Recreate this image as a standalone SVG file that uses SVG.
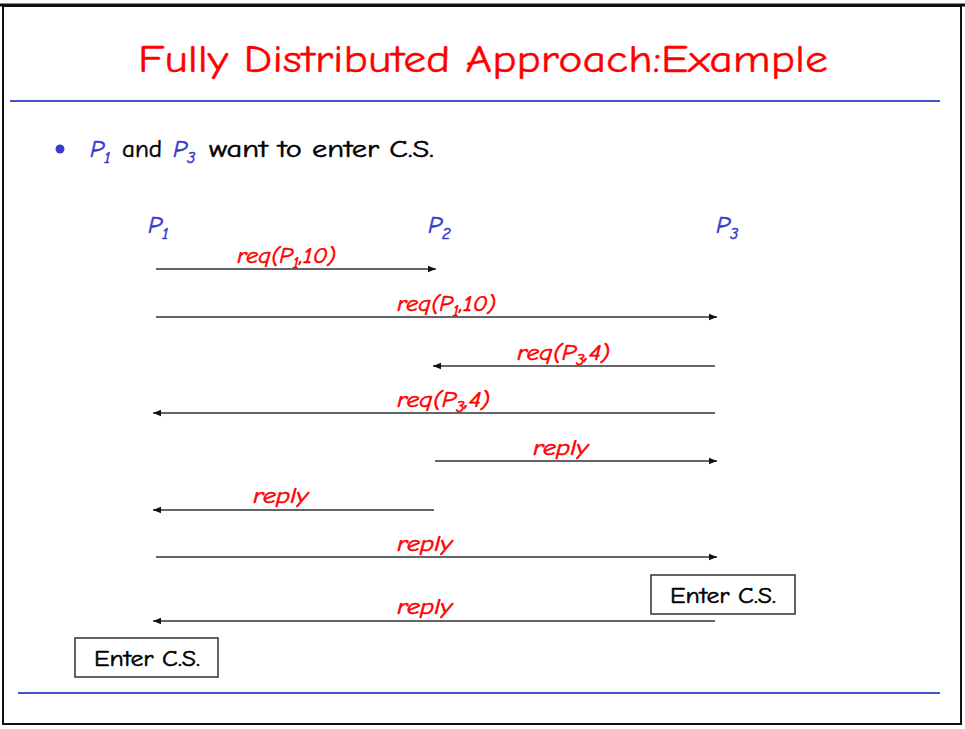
<svg xmlns="http://www.w3.org/2000/svg" width="965" height="729" viewBox="0 0 965 729">
<style>
.title{font-family:"Comic Neue","Liberation Sans",sans-serif;font-size:39px;fill:#ff0000;stroke:#ff0000;stroke-width:0.4}
.body{font-family:"Comic Neue","Liberation Sans",sans-serif;font-size:24px;fill:#000;stroke:#000;stroke-width:0.5}
.proc{font-family:"Comic Neue","Liberation Sans",sans-serif;font-size:25px;font-style:italic;fill:#3a3acc;stroke:#3a3acc;stroke-width:0.6}
.lbl{font-family:"Comic Neue","Liberation Sans",sans-serif;font-size:23px;font-style:italic;fill:#ff0000;stroke:#ff0000;stroke-width:0.6}
.sub{font-size:65%}
.msg{stroke:#333;stroke-width:1.5;fill:none;marker-end:url(#ah)}
.rule{stroke:#4455cc;stroke-width:2}
.box rect{fill:#fff;stroke:#333;stroke-width:1.5}
.box text{font-family:"Comic Neue","Liberation Sans",sans-serif;font-size:22px;fill:#000;stroke:#000;stroke-width:0.5}
</style>
<defs>
<marker id="ah" viewBox="0 0 10 10" refX="10" refY="5" markerWidth="9" markerHeight="8" markerUnits="userSpaceOnUse" orient="auto">
<path d="M0,1 L10,5 L0,9 z" fill="#111"/>
</marker>
</defs>
<rect x="0" y="0" width="965" height="729" fill="#fff"/>
<rect x="3" y="6" width="958" height="718" fill="none" stroke="#111" stroke-width="2"/>
<line x1="0" y1="5" x2="965" y2="5" stroke="#111" stroke-width="3"/>
<text class="title" x="483" y="72" text-anchor="middle" textLength="690" lengthAdjust="spacingAndGlyphs">Fully Distributed Approach:Example</text>
<line class="rule" x1="10" y1="101" x2="940" y2="101"/>
<line class="rule" x1="18" y1="693" x2="940" y2="693"/>
<circle cx="60" cy="149" r="4.5" fill="#3a3acc"/>
<text class="proc" x="90" y="157">P<tspan class="sub" dy="6">1</tspan></text>
<text class="body" x="122" y="157" textLength="40" lengthAdjust="spacingAndGlyphs">and</text>
<text class="proc" x="173" y="157">P<tspan class="sub" dy="6">3</tspan></text>
<text class="body" x="209" y="157" textLength="225" lengthAdjust="spacingAndGlyphs">want to enter C.S.</text>
<g id="p1"><text class="proc" x="148" y="233">P<tspan class="sub" dy="6">1</tspan></text></g>
<g id="p2"><text class="proc" x="428" y="233">P<tspan class="sub" dy="6">2</tspan></text></g>
<g id="p3"><text class="proc" x="716" y="233">P<tspan class="sub" dy="6">3</tspan></text></g>
<g id="connectors">
<line class="msg" x1="156" y1="269" x2="436" y2="269"/>
<line class="msg" x1="156" y1="317" x2="717" y2="317"/>
<line class="msg" x1="715" y1="366" x2="433" y2="366"/>
<line class="msg" x1="715" y1="413" x2="153" y2="413"/>
<line class="msg" x1="435" y1="461" x2="717" y2="461"/>
<line class="msg" x1="434" y1="510" x2="153" y2="510"/>
<line class="msg" x1="156" y1="557" x2="717" y2="557"/>
<line class="msg" x1="715" y1="621" x2="153" y2="621"/>
<text class="lbl" x="237" y="263" textLength="99" lengthAdjust="spacingAndGlyphs">req(P<tspan class="sub" dy="5">1</tspan><tspan dy="-5">,10)</tspan></text>
<text class="lbl" x="397" y="311" textLength="99" lengthAdjust="spacingAndGlyphs">req(P<tspan class="sub" dy="5">1</tspan><tspan dy="-5">,10)</tspan></text>
<text class="lbl" x="517" y="360" textLength="93" lengthAdjust="spacingAndGlyphs">req(P<tspan class="sub" dy="5">3</tspan><tspan dy="-5">,4)</tspan></text>
<text class="lbl" x="397" y="407" textLength="93" lengthAdjust="spacingAndGlyphs">req(P<tspan class="sub" dy="5">3</tspan><tspan dy="-5">,4)</tspan></text>
<text class="lbl" x="533" y="455" textLength="55" lengthAdjust="spacingAndGlyphs">reply</text>
<text class="lbl" x="253" y="503" textLength="55" lengthAdjust="spacingAndGlyphs">reply</text>
<text class="lbl" x="397" y="551" textLength="55" lengthAdjust="spacingAndGlyphs">reply</text>
<text class="lbl" x="397" y="614" textLength="55" lengthAdjust="spacingAndGlyphs">reply</text>
</g>
<g id="cs3" class="box"><rect x="651" y="575" width="144" height="39"/><text x="670" y="603" textLength="106" lengthAdjust="spacingAndGlyphs">Enter C.S.</text></g>
<g id="cs1" class="box"><rect x="75" y="638" width="143" height="39"/><text x="94" y="666" textLength="106" lengthAdjust="spacingAndGlyphs">Enter C.S.</text></g>
</svg>
